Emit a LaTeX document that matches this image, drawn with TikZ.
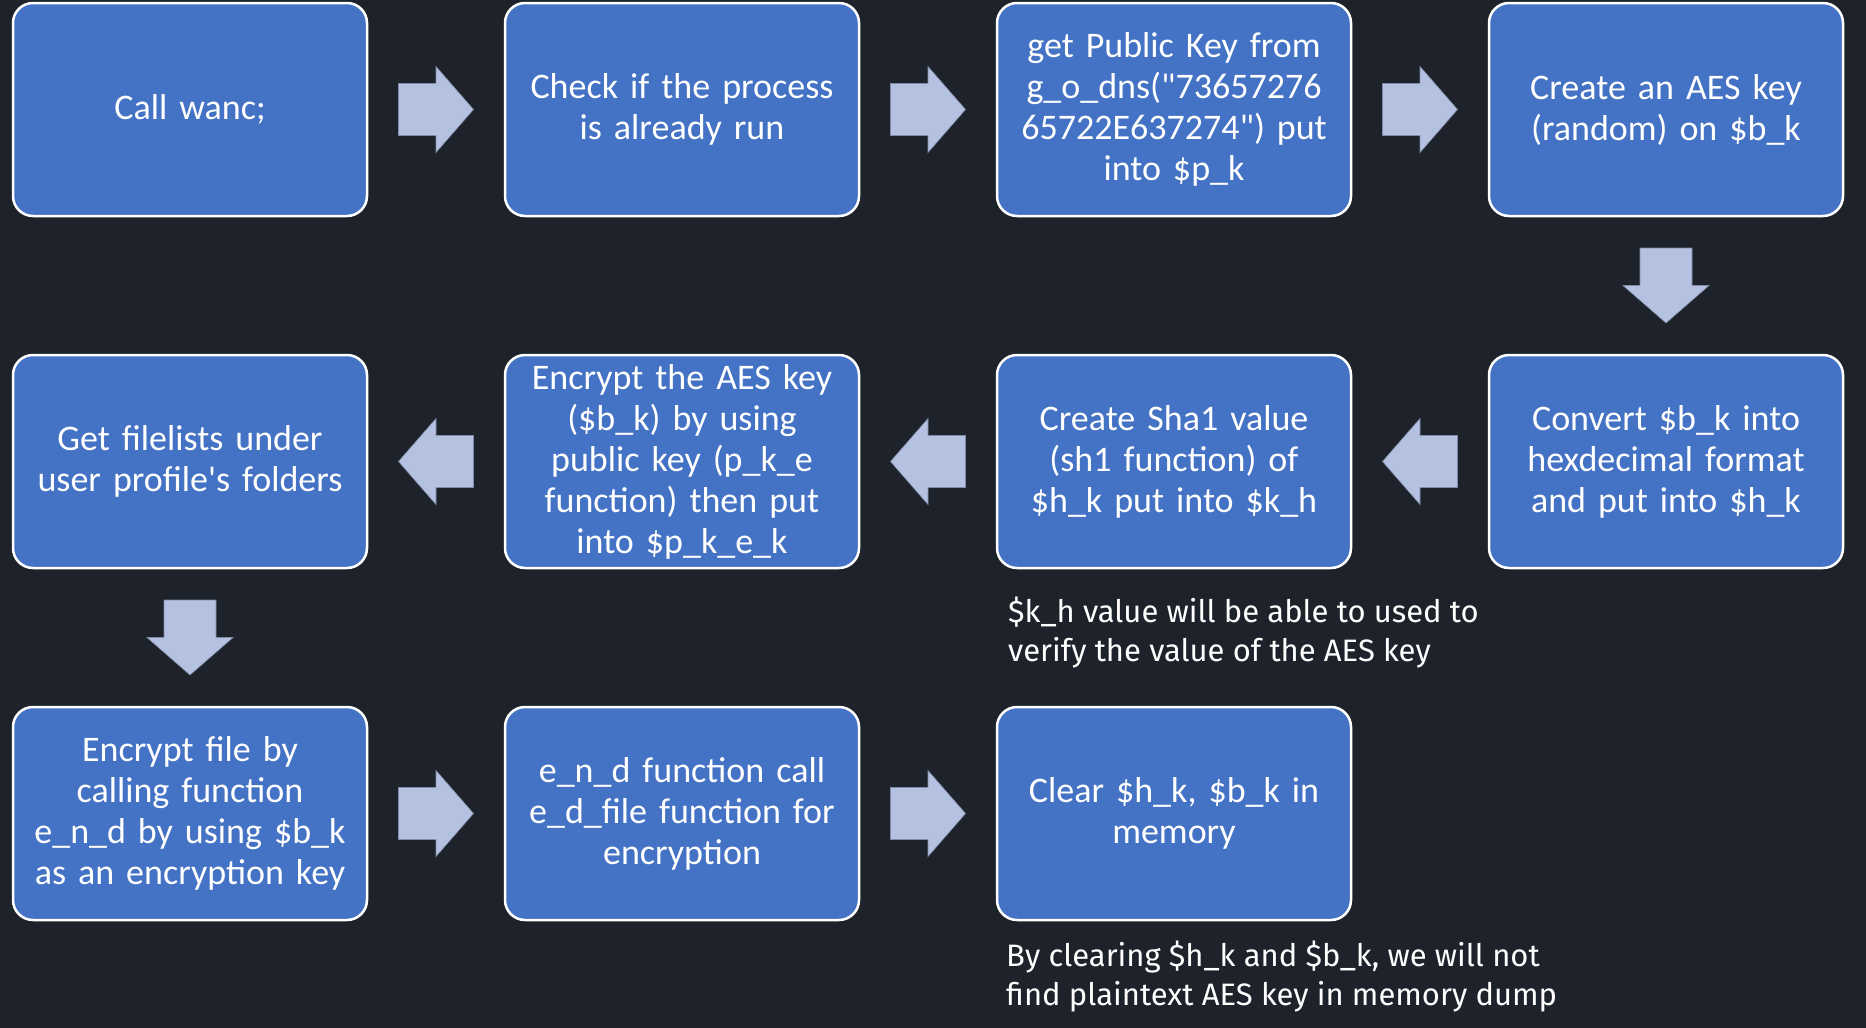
\documentclass[tikz,border=0pt]{standalone}
\usepackage{fontspec}
\setmainfont{Carlito}[Ligatures=TeXOff]
\newfontfamily\notefont{Fira Sans}
\usetikzlibrary{calc}
\definecolor{bg}{HTML}{1E232B}
\definecolor{boxblue}{HTML}{4472C4}
\definecolor{arrfill}{HTML}{B4C1E0}
\definecolor{arrline}{HTML}{7F8BA6}
\begin{document}
\begin{tikzpicture}[x=1pt,y=1pt,
  stepbox/.style={draw=white, line width=2.5pt, fill=boxblue, rounded corners=20pt,
    minimum width=354pt, minimum height=213pt, text=white, align=center,
    text width=340pt, inner sep=0pt,
    font=\fontsize{36}{41}\selectfont},
  notetext/.style={text=white, align=left, anchor=west, inner sep=0pt,
    font=\notefont\fontsize{31}{39}\selectfont},
  blockarrow/.pic={\filldraw[fill=arrfill, draw=arrline, line width=0.6pt]
     (-37.5,-26) -- (0,-26) -- (0,-43) -- (37.5,0) -- (0,43) -- (0,26) -- (-37.5,26) -- cycle;}
]
\fill[bg] (0,0) rectangle (1866,-1028);
\useasboundingbox (0,0) rectangle (1866,-1028);

% row 1
\node[stepbox] (b1) at (190,-109.5) {Call wanc;};
\node[stepbox] (b2) at (682,-109.5) {Check if the process\\is already run};
\node[stepbox] (b3) at (1174,-109.5) {get Public Key from\\g\_o\_dns("73657276\\65722E637274") put\\into \$p\_k};
\node[stepbox] (b4) at (1666,-109.5) {Create an AES key\\(random) on \$b\_k};
% row 2
\node[stepbox] (b5) at (1666,-461.5) {Convert \$b\_k into\\hexdecimal format\\and put into \$h\_k};
\node[stepbox] (b6) at (1174,-461.5) {Create Sha1 value\\(sh1 function) of\\\$h\_k put into \$k\_h};
\node[stepbox] (b7) at (682,-461.5) {Encrypt the AES key\\(\$b\_k) by using\\public key (p\_k\_e\\function) then put\\into \$p\_k\_e\_k};
\node[stepbox] (b8) at (190,-461.5) {Get filelists under\\user profile's folders};
% row 3
\node[stepbox] (b9) at (190,-813.5) {Encrypt file by\\calling function\\e\_n\_d by using \$b\_k\\as an encryption key};
\node[stepbox] (b10) at (682,-813.5) {e\_n\_d function call\\e\_d\_file function for\\encryption};
\node[stepbox] (b11) at (1174,-813.5) {Clear \$h\_k, \$b\_k in\\memory};

% block arrows
\path ($(b1.east)!0.5!(b2.west)$) pic {blockarrow};
\path ($(b2.east)!0.5!(b3.west)$) pic {blockarrow};
\path ($(b3.east)!0.5!(b4.west)$) pic {blockarrow};
\path ($(b4.south)!0.5!(b5.north)$) pic[rotate=-90] {blockarrow};
\path ($(b5.west)!0.5!(b6.east)$) pic[rotate=180] {blockarrow};
\path ($(b6.west)!0.5!(b7.east)$) pic[rotate=180] {blockarrow};
\path ($(b7.west)!0.5!(b8.east)$) pic[rotate=180] {blockarrow};
\path ($(b8.south)!0.5!(b9.north)$) pic[rotate=-90] {blockarrow};
\path ($(b9.east)!0.5!(b10.west)$) pic {blockarrow};
\path ($(b10.east)!0.5!(b11.west)$) pic {blockarrow};

% notes
\node[notetext] (n1) at (1008,-632.5) {\$k\_h value will be able to used to\\verify the value of the AES key};
\node[notetext] (n2) at (1006,-976.5) {By clearing \$h\_k and \$b\_k, we will not\\find plaintext AES key in memory dump};
\end{tikzpicture}
\end{document}
